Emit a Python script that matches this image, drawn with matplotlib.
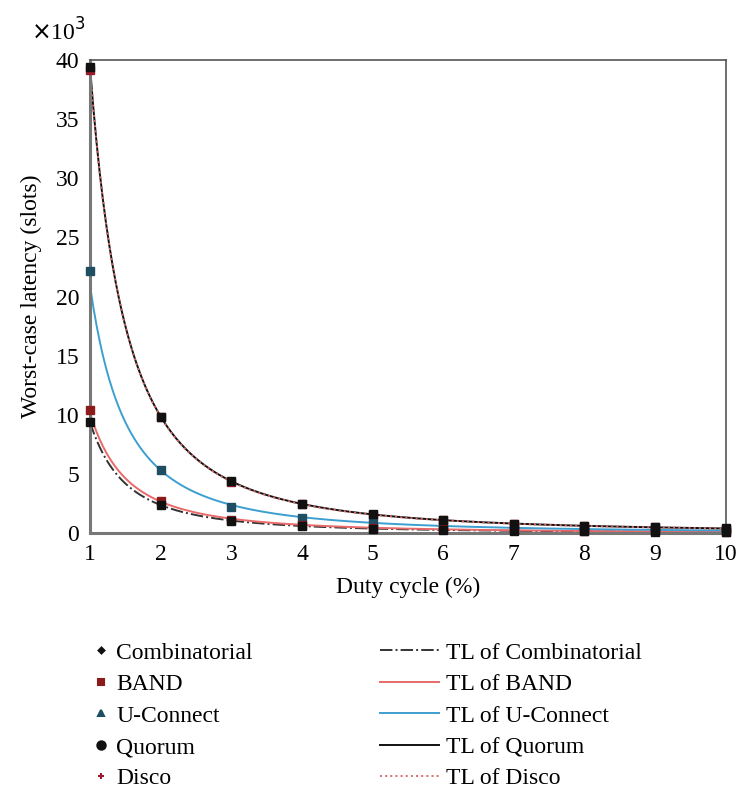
#!/usr/bin/env python3

'''
    Worst-case latency vs duty cycle, with power-law trend lines.
'''

import numpy as np
import matplotlib.pyplot as plt
from matplotlib.lines import Line2D
from matplotlib.ticker import FuncFormatter

duty = [1, 2, 3, 4, 5, 6, 7, 8, 9, 10]

combinatorial = [9400, 2400, 1030, 600, 390, 270, 200, 150, 120, 100]
band = [10400, 2700, 1150, 690, 450, 320, 240, 190, 150, 120]
uconnect = [22200, 5300, 2200, 1300, 850, 600, 450, 350, 280, 230]
quorum = [39400, 9850, 4380, 2460, 1580, 1100, 800, 620, 490, 400]
disco = [39200, 9800, 4350, 2450, 1570, 1090, 800, 610, 480, 390]

names = ["Combinatorial", "BAND", "U-Connect", "Quorum", "Disco"]
series = [combinatorial, band, uconnect, quorum, disco]
point_colors = ["#111111", "#8b1a1a", "#1f4e62", "#111111", "#9b1b2b"]
legend_markers = ["D", "s", "^", "o", "+"]
legend_sizes = [3, 5, 5, 6, 5]
tl_colors = ["#333333", "#e86a6a", "#3d9fd0", "#111111", "#d96b6b"]
tl_styles = ["-.", "-", "-", "-", ":"]
# draw order of the point markers (Disco under Quorum)
point_order = [4, 2, 1, 0, 3]

plt.rcParams['font.family'] = ['Liberation Serif', 'DejaVu Serif']
FS = 17


def trend(x, y, xs):
    # power-law trend line fitted in log-log space
    b, a = np.polyfit(np.log(x), np.log(y), 1)
    return np.exp(a) * xs ** b


def latency_plot():
    fig = plt.figure(figsize=(7.39, 7.91), dpi=100)
    ax = fig.add_axes([0.122, 0.326, 0.86, 0.598])
    xs = np.linspace(1, 10, 400)

    for y, tc, ts in zip(series, tl_colors, tl_styles):
        ax.plot(xs, trend(duty, y, xs), color=tc, linestyle=ts, linewidth=1.4, zorder=2)
    for k, i in enumerate(point_order):
        ax.plot(duty, series[i], linestyle='none', marker='s', markersize=6,
                color=point_colors[i], zorder=3 + k, clip_on=False)

    ax.set_xlim(1, 10)
    ax.set_ylim(0, 40000)
    ax.set_xticks(duty)
    ax.set_yticks(range(0, 40001, 5000))
    ax.yaxis.set_major_formatter(FuncFormatter(lambda v, _: "%g" % (v / 1000)))
    ax.tick_params(length=0, labelsize=FS, pad=8)
    for s in ax.spines.values():
        s.set_color("#555555")
        s.set_linewidth(1.2)
    ax.spines['left'].set_linewidth(2.2)
    ax.spines['bottom'].set_linewidth(2.2)
    ax.spines['left'].set_color("#777777")
    ax.spines['bottom'].set_color("#777777")
    ax.text(-0.05, 1.03, r"$\times$10$^3$", transform=ax.transAxes,
            fontsize=FS, ha='center', va='bottom')
    ax.set_xlabel("Duty cycle (%)", fontsize=FS, labelpad=8)
    ax.set_ylabel("Worst-case latency (slots)", fontsize=FS, labelpad=10)

    point_handles = [Line2D([], [], linestyle='none', marker=m, markersize=ms,
                            color=pc, markeredgewidth=1.5)
                     for pc, m, ms in zip(point_colors, legend_markers, legend_sizes)]
    line_handles = [Line2D([], [], color=tc, linestyle=ts, linewidth=1.4)
                    for tc, ts in zip(tl_colors, tl_styles)]

    fig.legend(point_handles, names, frameon=False, fontsize=FS,
               loc='upper left', bbox_to_anchor=(0.095, 0.215),
               handlelength=0.8, labelspacing=0.42, handletextpad=0.25)
    fig.legend(line_handles, ["TL of " + n for n in names], frameon=False,
               fontsize=FS, loc='upper left', bbox_to_anchor=(0.485, 0.215),
               handlelength=2.5, labelspacing=0.42, handletextpad=0.3)

    fig.savefig("out.png", dpi=100)


if __name__ == "__main__":
    latency_plot()
